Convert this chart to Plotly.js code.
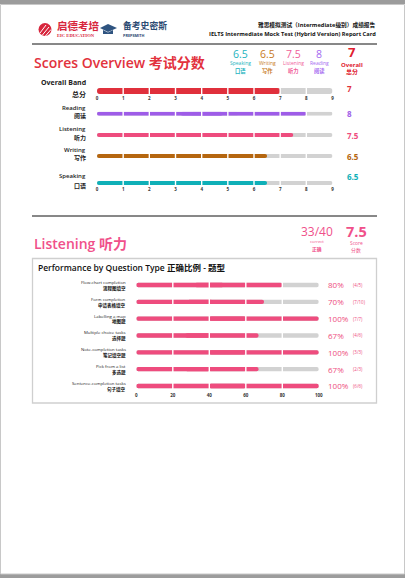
<!DOCTYPE html>
<html><head><meta charset="utf-8">
<script src="https://cdn.plot.ly/plotly-3.0.1.min.js"></script>
<style>html,body{margin:0;padding:0;background:#fff;}#chart{width:405px;height:578px;}</style>
</head><body><div id="chart"></div>
<script>
// ---------- data ----------
const bandLabelsEn = ['Overall Band', 'Reading', 'Listening', 'Writing', 'Speaking'];
const bandLabelsZh = ['总分', '阅读', '听力', '写作', '口语'];
const bandScores = [7, 8, 7.5, 6.5, 6.5];
const bandTicks = [0, 1, 2, 3, 4, 5, 6, 7, 8, 9];
const bandMax = 9;

const summaryOrder = [4, 3, 2, 1];   // Speaking, Writing, Listening, Reading
const listeningCorrect = 33;
const listeningTotal = 40;
const listeningScore = 7.5;

const qTypesEn = ['Flow-chart completion', 'Form completion', 'Labelling a map', 'Multiple choice tasks',
  'Note-completion tasks', 'Pick from a list', 'Sentence-completion tasks'];
const qTypesZh = ['流程图填空', '申请表格填空', '地图题', '选择题', '笔记填空题', '多选题', '句子填空'];
const qPct = [80, 70, 100, 67, 100, 67, 100];
const qCorrect = [4, 7, 7, 4, 3, 2, 6];
const qTotal = [5, 10, 7, 6, 3, 3, 6];
const qTicks = [0, 20, 40, 60, 80, 100];
const qMax = 100;

// ---------- styling ----------
const W = 405, H = 578;
const X = p => p / W, Y = p => 1 - p / H;
const FONT = 'Open Sans, Noto Sans CJK SC, sans-serif';
const RED = '#e2323d', PINK = '#ee4c7e';
const bandColors = ['#e0303c', '#9e5ce8', '#ee4c7e', '#b5660f', '#0fb0b8'];
const summaryColors = {4: '#1cb4c0', 3: '#c77a1c', 2: '#f0609a', 1: '#a46af0'};
const TRACK = '#d2d2d2';
const bandCenters = [91, 113.7, 135, 156, 183];
const bandThick = [6, 4, 4, 4, 4];

const traces = [];
const shapes = [];
const ann = [];
const layout = {
  width: W, height: H, margin: {l: 0, r: 0, t: 0, b: 0},
  paper_bgcolor: '#fff', plot_bgcolor: 'rgba(0,0,0,0)',
  showlegend: false, barmode: 'overlay',
  font: {family: FONT, color: '#222'},
  shapes: shapes, annotations: ann
};

// rounded bar from 0 to v: two overlapping parts, each rounded at its far end
function roundedBar(v, color, xa, ya, yv, width) {
  const common = {type: 'bar', orientation: 'h', y: [yv], width: width, xaxis: xa, yaxis: ya,
    marker: {color: color, cornerradius: '50%', line: {width: 0}}, hoverinfo: 'skip'};
  traces.push(Object.assign({}, common, {base: [v * 0.4], x: [v * 0.6]}));
  traces.push(Object.assign({}, common, {base: [v * 0.6], x: [-v * 0.6]}));
}

// ---------- band rows ----------
bandScores.forEach((s, i) => {
  const n = i + 1;
  const xa = 'x' + n, ya = 'y' + n;
  const c = bandCenters[i], t = bandThick[i];
  const showT = (i === 0 || i === 4);
  layout['xaxis' + n] = {domain: [X(97), X(332.5)], range: [0, bandMax], anchor: ya,
    showgrid: false, zeroline: false, showline: false, ticks: '',
    tickvals: bandTicks, showticklabels: showT,
    tickfont: {size: 4.5, weight: 'bold', color: '#333'}, ticklabelstandoff: 2.5, fixedrange: true};
  layout['yaxis' + n] = {domain: [Y(c + t / 2), Y(c - t / 2)], range: [-0.5, 0.5], anchor: xa,
    visible: false, fixedrange: true};
  roundedBar(bandMax, TRACK, xa, ya, 0, 1);
  roundedBar(s, bandColors[i], xa, ya, 0, 1);
  bandTicks.slice(1, -1).forEach(tv => shapes.push({type: 'line', xref: xa, yref: ya + ' domain',
    x0: tv, x1: tv, y0: -0.3, y1: 1.3, line: {color: '#fff', width: 1.4}, layer: 'above'}));
  // labels
  const bold = i === 0;
  ann.push({xref: 'paper', yref: 'paper', x: X(87), y: Y(c - (i === 0 ? 8.7 : (i === 4 ? 7.5 : 6))),
    text: bandLabelsEn[i], showarrow: false, xanchor: 'right', yanchor: 'middle', borderpad: 0,
    font: {size: bold ? 7 : 6, weight: bold ? 'bold' : 600, color: '#222'}});
  ann.push({xref: 'paper', yref: 'paper', x: X(87), y: Y(c + (i === 0 ? 3 : 2.5)),
    text: bandLabelsZh[i], showarrow: false, xanchor: 'right', yanchor: 'middle', borderpad: 0,
    font: {size: bold ? 7 : 6, weight: 'bold', color: '#222'}});
  ann.push({xref: 'paper', yref: 'paper', x: X(345.5), y: Y(i === 0 ? 88.3 : (i === 4 ? 176 : c)),
    text: String(s), showarrow: false, xanchor: 'left', yanchor: 'middle', borderpad: 0,
    font: {size: 8, weight: 'bold', color: bandColors[i]}});
});

// ---------- question type rows ----------
const qx = 'x6', qy = 'y6';
const qFirst = 285, qStep = 16.83;
layout.xaxis6 = {domain: [X(136.3), X(318.8)], range: [0, qMax], anchor: qy,
  showgrid: false, zeroline: false, showline: false, ticks: '', tickvals: qTicks,
  tickfont: {size: 4.5, weight: 'bold', color: '#333'}, ticklabelstandoff: 0, fixedrange: true};
layout.yaxis6 = {domain: [Y(qFirst + qStep * 6.3), Y(qFirst - qStep * 0.5)], range: [6.3, -0.5],
  type: 'category', categoryarray: qTypesEn, categoryorder: 'array', anchor: qx, visible: false, fixedrange: true};
qTypesEn.forEach((q, i) => {
  roundedBar(qMax, TRACK, qx, qy, q, 0.26);
  roundedBar(qPct[i], PINK, qx, qy, q, 0.26);
  ann.push({xref: 'paper', yref: qy, x: X(127), y: q, yshift: 3, text: q, showarrow: false, borderpad: 0,
    xanchor: 'right', yanchor: 'middle', font: {size: 4.3, color: '#222'}});
  ann.push({xref: 'paper', yref: qy, x: X(127), y: q, yshift: -3.2, text: qTypesZh[i], showarrow: false, borderpad: 0,
    xanchor: 'right', yanchor: 'middle', font: {size: 4.5, weight: 'bold', color: '#111'}});
  ann.push({xref: 'paper', yref: qy, x: X(327), y: q, text: qPct[i] + '%', showarrow: false, borderpad: 0,
    xanchor: 'left', yanchor: 'middle', font: {size: 8, color: PINK}});
  ann.push({xref: 'paper', yref: qy, x: X(352), y: q, text: '(' + qCorrect[i] + '/' + qTotal[i] + ')', showarrow: false, borderpad: 0,
    xanchor: 'left', yanchor: 'middle', font: {size: 4.5, color: PINK}});
});
qTicks.slice(1, -1).forEach(tv => shapes.push({type: 'line', xref: qx, yref: 'paper',
  x0: tv, x1: tv, y0: Y(qFirst + qStep * 6.3), y1: Y(qFirst - qStep * 0.5),
  line: {color: '#fff', width: 1.4}, layer: 'above'}));

// ---------- page frame ----------
shapes.push({type: 'rect', xref: 'paper', yref: 'paper', x0: 0, x1: 1, y0: Y(4), y1: 1,
  fillcolor: '#9c9c9c', line: {width: 0}, layer: 'below'});
shapes.push({type: 'rect', xref: 'paper', yref: 'paper', x0: 0, x1: 1, y0: 0, y1: Y(574),
  fillcolor: '#9c9c9c', line: {width: 0}, layer: 'below'});
shapes.push({type: 'rect', xref: 'paper', yref: 'paper', x0: X(0.5), x1: X(404.5), y0: Y(574), y1: Y(4.5),
  fillcolor: 'rgba(0,0,0,0)', line: {color: '#c8c8c8', width: 1}, layer: 'below'});
// header line and section line
shapes.push({type: 'line', xref: 'paper', yref: 'paper', x0: X(32), x1: X(377), y0: Y(44), y1: Y(44),
  line: {color: '#111', width: 1}});
shapes.push({type: 'line', xref: 'paper', yref: 'paper', x0: X(32), x1: X(377), y0: Y(216), y1: Y(216),
  line: {color: '#111', width: 1}});
// performance box
shapes.push({type: 'rect', xref: 'paper', yref: 'paper', x0: X(32.5), x1: X(376.5), y0: Y(403), y1: Y(258.5),
  fillcolor: 'rgba(0,0,0,0)', line: {color: '#cfcfcf', width: 1.3}, layer: 'below'});

// logos (simple drawn marks)
shapes.push({type: 'circle', xref: 'paper', yref: 'paper', x0: X(38.5), x1: X(51.5), y0: Y(36), y1: Y(23),
  fillcolor: '#d7263d', line: {width: 0}});
[[40, 33, 46, 25], [42, 35.5, 49, 27], [45, 36.5, 51, 29.5]].forEach(s => shapes.push({type: 'line', xref: 'paper', yref: 'paper',
  x0: X(s[0]), y0: Y(s[1]), x1: X(s[2]), y1: Y(s[3]), line: {color: '#fff', width: 1}}));
shapes.push({type: 'path', xref: 'paper', yref: 'paper',
  path: `M ${X(100)} ${Y(28)} L ${X(108)} ${Y(24)} L ${X(117)} ${Y(28)} L ${X(108)} ${Y(32)} Z`,
  fillcolor: '#2f5480', line: {width: 0}});
shapes.push({type: 'path', xref: 'paper', yref: 'paper',
  path: `M ${X(103)} ${Y(30)} L ${X(103)} ${Y(34)} L ${X(113)} ${Y(34)} L ${X(113)} ${Y(30)} L ${X(108)} ${Y(32.5)} Z`,
  fillcolor: '#2f5480', line: {width: 0}});

const T = (x, y, text, size, color, opts) => ann.push(Object.assign({xref: 'paper', yref: 'paper',
  x: X(x), y: Y(y), text: text, showarrow: false, xanchor: 'center', yanchor: 'middle', borderpad: 0,
  font: {size: size, color: color}}, opts || {}));

T(56, 26.5, '启德考培', 10.5, '#d7263d', {xanchor: 'left', font: {size: 10.5, color: '#d7263d', weight: 'bold'}});
T(56, 35.5, 'EIC EDUCATION', 4.6, '#d7263d', {xanchor: 'left', font: {size: 4.6, color: '#d7263d', weight: 'bold', family: 'Liberation Serif, serif'}});
T(122, 26.5, '备考史密斯', 8.8, '#2b4a72', {xanchor: 'left', font: {size: 8.8, color: '#2b4a72', weight: 'bold'}});
T(122, 35.5, 'PREPSMITH', 3.8, '#2b4a72', {xanchor: 'left', font: {size: 3.8, color: '#2b4a72', weight: 'bold'}});

T(377, 25.5, '雅思模拟测试（Intermediate级别）成绩报告', 5.7, '#111', {xanchor: 'right', font: {size: 5.7, color: '#111', weight: 'bold'}});
T(377, 34, 'IELTS Intermediate Mock Test (Hybrid Version) Report Card', 5.7, '#111', {xanchor: 'right', font: {size: 5.7, color: '#111', weight: 'bold'}});

T(33, 62.7, 'Scores Overview 考试分数', 14, RED, {xanchor: 'left', font: {size: 14, color: RED, weight: 600}});

// summary scores
const sumX = [240.7, 267.3, 293.7, 319];
const enNames = {4: 'Speaking', 3: 'Writing', 2: 'Listening', 1: 'Reading'};
summaryOrder.forEach((idx, k) => {
  const col = summaryColors[idx];
  T(sumX[k], 54, String(bandScores[idx]), 10.5, col);
  T(sumX[k], 63, enNames[idx], 5, col);
  T(sumX[k], 70.5, bandLabelsZh[idx], 5.3, col, {font: {size: 5.3, color: col, weight: 'bold'}});
});
T(352.3, 51.8, String(bandScores[0]), 13, '#e0202e', {font: {size: 13, color: '#e0202e', weight: 'bold'}});
T(352.3, 64.5, 'Overall', 6, '#e0202e', {font: {size: 6, color: '#e0202e', weight: 'bold'}});
T(352.3, 72.5, '总分', 6, '#e0202e', {font: {size: 6, color: '#e0202e', weight: 'bold'}});

// listening header
T(33, 243.3, 'Listening 听力', 14, '#f0508a', {xanchor: 'left', font: {size: 14, color: '#f0508a', weight: 600}});
T(316.7, 232, listeningCorrect + '/' + listeningTotal, 12, '#f0508a');
T(316.7, 241.6, 'correct', 4.2, '#f0508a');
T(316.7, 249.5, '正确', 4.8, '#f0508a', {font: {size: 4.8, color: '#f0508a', weight: 'bold'}});
T(356, 231, String(listeningScore), 14.5, '#f0508a', {font: {size: 14.5, color: '#f0508a', weight: 'bold'}});
T(356, 242.8, 'Score', 4.9, '#f0508a');
T(356, 250.4, '分数', 4.9, '#f0508a');

T(37, 267.7, 'Performance by Question Type 正确比例 - 题型', 8.5, '#111', {xanchor: 'left', font: {size: 8.5, color: '#111', weight: 600}});

Plotly.newPlot('chart', traces, layout, {staticPlot: true, displayModeBar: false});
</script></body></html>
